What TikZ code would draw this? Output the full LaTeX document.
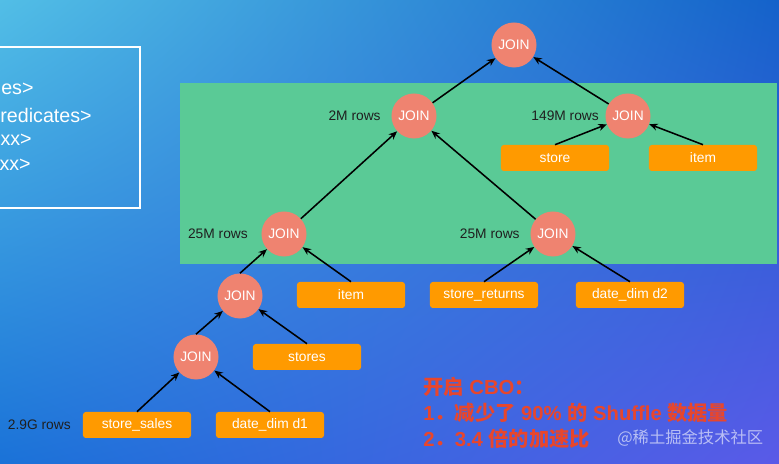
\documentclass[tikz,border=0pt]{standalone}
\usepackage{fontspec}
\setmainfont{Liberation Sans}
\newfontfamily\cjk{Noto Sans CJK SC}
\usepackage{tikz}
\usepackage{xcolor}
\usetikzlibrary{positioning,arrows.meta,shadings}

\definecolor{joinred}{RGB}{239,131,112}
\definecolor{tblorange}{RGB}{255,154,0}
\definecolor{rowgreen}{RGB}{90,202,150}
\definecolor{cbored}{RGB}{232,70,44}
\definecolor{bgul}{RGB}{82,190,230}
\definecolor{bgur}{RGB}{20,98,202}
\definecolor{bgll}{RGB}{26,114,216}
\definecolor{bglr}{RGB}{90,90,232}

\begin{document}
\begin{tikzpicture}[
    x=0.025cm, y=-0.025cm,
    font=\fontsize{9.8}{12}\selectfont,
    joinnode/.style={circle, fill=joinred, text=white, minimum size=1.125cm, inner sep=0pt},
    tbl/.style={rectangle, rounded corners=2pt, fill=tblorange, text=white, minimum width=2.7cm, minimum height=0.65cm},
    rows/.style={text=black!88},
    panel/.style={text=white, anchor=east, inner sep=0pt, font=\fontsize{14}{16}\selectfont},
    arrow/.style={-{Stealth[length=6pt,width=5pt]}, line width=1.1pt}
]
    \useasboundingbox (0,0) rectangle (779,464);
    \clip (0,0) rectangle (779,464);

    % Background
    \shade[upper left=bgul, upper right=bgur, lower left=bgll, lower right=bglr] (0,0) rectangle (779,464);
    \draw[white, line width=1.3pt] (-5,47) rectangle (140,208);
    \node[panel, anchor=west] at (1,89) {es>};
    \node[panel] at (92,115) {redicates>};
    \node[panel] at (32,140) {xx>};
    \node[panel] at (31,165) {xx>};
    \fill[rowgreen] (180,83) rectangle (777,264);

    % Place nodes
    \node[joinnode] (jtop) at (514,45) {JOIN};
    \node[joinnode] (j2m) at (414,116) {JOIN};
    \node[joinnode] (j149m) at (628,116) {JOIN};
    \node[joinnode] (j25ma) at (284,234) {JOIN};
    \node[joinnode] (j25mb) at (553,234) {JOIN};
    \node[joinnode] (jmid) at (240,296) {JOIN};
    \node[joinnode] (jbot) at (196,357) {JOIN};

    \node[tbl] (store) at (555,158) {store};
    \node[tbl] (itemb) at (703,158) {item};
    \node[tbl] (itema) at (351,295) {item};
    \node[tbl] (returns) at (484,295) {store\_returns};
    \node[tbl] (dimtwo) at (630,295) {date\_dim d2};
    \node[tbl] (stores) at (307,357) {stores};
    \node[tbl] (sales) at (137,425) {store\_sales};
    \node[tbl] (dimone) at (270,425) {date\_dim d1};

    \node[rows, left=4pt of j2m] (r2m) {2M rows};
    \node[rows, left=1pt of j149m] (r149m) {149M rows};
    \node[rows, left=6pt of j25ma] (r25ma) {25M rows};
    \node[rows, left=4pt of j25mb] (r25mb) {25M rows};
    \node[rows, left=5pt of sales] (r29g) {2.9G rows};

    % Add connections
    \draw[arrow] (sales.north) -- (jbot);
    \draw[arrow] (dimone.north) -- (jbot);
    \draw[arrow] (jbot.north) -- (jmid);
    \draw[arrow] (stores.north) -- (jmid);
    \draw[arrow] (jmid.north) -- (j25ma);
    \draw[arrow] (itema.north) -- (j25ma);
    \draw[arrow] (j25ma) -- (j2m);
    \draw[arrow] (returns.north) -- (j25mb);
    \draw[arrow] (dimtwo.north) -- (j25mb);
    \draw[arrow] (j25mb) -- (j2m);
    \draw[arrow] (j2m) -- (jtop);
    \draw[arrow] (store.north) -- (j149m);
    \draw[arrow] (itemb.north) -- (j149m);
    \draw[arrow] (j149m) -- (jtop);

    % CBO note
    \node[anchor=west, inner sep=0pt, text=cbored, align=left, font=\bfseries\fontsize{14.4}{18.5}\selectfont] (cbo) at (423,413)
        {{\cjk 开启} CBO{\cjk ：}\\1{\cjk ．减少了} 90\% {\cjk 的} Shuffle {\cjk 数据量}\\2{\cjk ．}3.4 {\cjk 倍的加速比}};
    \node[anchor=west, inner sep=0pt, text=white, opacity=0.6, font=\cjk\fontsize{11.6}{12}\selectfont] (mark) at (617,438) {@稀土掘金技术社区};
\end{tikzpicture}
\end{document}
